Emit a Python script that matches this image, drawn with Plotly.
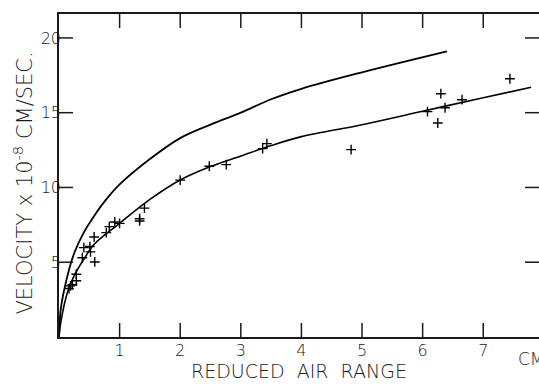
import plotly.graph_objects as go

# Upper (theoretical) curve
upper_x = [0, 0.03, 0.14, 0.25, 0.41, 0.58, 0.74, 1.0, 1.5, 2.0, 2.5, 3.0, 3.5, 4.0, 5.0, 6.4]
upper_v = [0, 1.9, 4.1, 5.6, 7.0, 8.1, 9.0, 10.2, 11.9, 13.3, 14.2, 15.0, 15.9, 16.6, 17.7, 19.1]

# Lower (fitted) curve
lower_x = [0, 0.03, 0.14, 0.25, 0.41, 0.58, 1.0, 1.5, 2.0, 2.5, 3.0, 3.5, 4.0, 5.0, 6.0, 7.0, 7.79]
lower_v = [0, 1.0, 3.0, 4.1, 5.2, 6.2, 7.6, 9.2, 10.5, 11.4, 12.1, 12.8, 13.4, 14.2, 15.1, 16.0, 16.7]

# Measured points
pts_x = [0.165, 0.19, 0.22, 0.286, 0.286, 0.385, 0.41, 0.51, 0.52, 0.58, 0.59, 0.78, 0.83, 0.92, 1.0,
         1.33, 1.33, 1.41, 2.0, 2.48, 2.76, 3.36, 3.43, 4.82, 6.08, 6.25, 6.30, 6.37, 6.65, 7.44]
pts_v = [3.24, 3.42, 3.49, 4.2, 3.76, 5.3, 5.98, 6.05, 5.69, 6.69, 5.02, 6.98, 7.38, 7.69, 7.6,
         7.91, 7.76, 8.62, 10.49, 11.42, 11.53, 12.6, 12.93, 12.53, 15.07, 14.31, 16.27, 15.33, 15.87, 17.27]

x_ticks = [1, 2, 3, 4, 5, 6, 7]
y_ticks = [5, 10, 15, 20]
X_RANGE = [0, 7.92]
Y_RANGE = [0, 21.6]

FONT = "DejaVu Sans Light, DejaVu Sans ExtraLight, DejaVu Sans"
INK = "#1a1a1a"

# plot-area geometry (px) used to turn a 14 px tick length into axis units
PLOT_W, PLOT_H, TICK_PX = 480, 323, 14
tx = TICK_PX / PLOT_W * (X_RANGE[1] - X_RANGE[0])
ty = TICK_PX / PLOT_H * (Y_RANGE[1] - Y_RANGE[0])

tick_x, tick_y = [], []
for t in x_ticks:
    tick_x += [t, t, None, t, t, None]
    tick_y += [Y_RANGE[0], Y_RANGE[0] + ty, None, Y_RANGE[1], Y_RANGE[1] - ty, None]
for v in y_ticks:
    tick_x += [X_RANGE[0], X_RANGE[0] + tx, None, X_RANGE[1], X_RANGE[1] - tx, None]
    tick_y += [v, v, None, v, v, None]

fig = go.Figure()
fig.add_trace(go.Scatter(x=tick_x, y=tick_y, mode="lines", line=dict(color=INK, width=1.5),
                         hoverinfo="skip", showlegend=False, cliponaxis=False))
fig.add_trace(go.Scatter(x=upper_x, y=upper_v, mode="lines",
                         line=dict(color="black", width=1.8, shape="spline"), showlegend=False))
fig.add_trace(go.Scatter(x=lower_x, y=lower_v, mode="lines",
                         line=dict(color="black", width=1.6, shape="spline"), showlegend=False))
fig.add_trace(go.Scatter(x=pts_x, y=pts_v, mode="markers",
                         marker=dict(symbol="cross-thin", size=7, line=dict(color="black", width=1.4)),
                         showlegend=False))

fig.update_layout(
    template="none",
    width=539, height=384,
    margin=dict(l=59, r=0, t=14, b=47, autoexpand=False),
    paper_bgcolor="white", plot_bgcolor="white",
    font=dict(family=FONT, color=INK, size=16),
    xaxis=dict(range=X_RANGE, tickvals=x_ticks, ticktext=[str(v) for v in x_ticks], ticks="",
               showline=True, linecolor=INK, linewidth=1.5, mirror=True,
               showgrid=False, zeroline=False, ticklabelstandoff=-2,
               tickfont=dict(size=16, family=FONT, color=INK),
               title=dict(text="REDUCED&nbsp;&nbsp;AIR&nbsp;&nbsp;RANGE",
                          font=dict(size=19, family=FONT, color=INK), standoff=2)),
    yaxis=dict(range=Y_RANGE, tickvals=y_ticks, ticktext=[str(v) for v in y_ticks], ticks="",
               showline=True, linecolor=INK, linewidth=1.5, mirror=True,
               showgrid=False, zeroline=False, ticklabelstandoff=-7,
               tickfont=dict(size=16, family=FONT, color=INK)),
    annotations=[
        dict(text="VELOCITY x 10<sup>-8</sup> CM/SEC.", xref="paper", yref="paper",
             x=-0.075, y=0.475, xanchor="center", yanchor="middle", textangle=-90, showarrow=False,
             font=dict(size=21, family=FONT, color=INK)),
        dict(text="CM", xref="x", yref="paper", x=7.8, y=-0.03, xanchor="center", yanchor="top",
             showarrow=False, font=dict(size=17, family=FONT, color=INK)),
    ],
)
fig.write_html("out.html", post_script="document.body.style.margin='0';",
               config={"displayModeBar": False})
